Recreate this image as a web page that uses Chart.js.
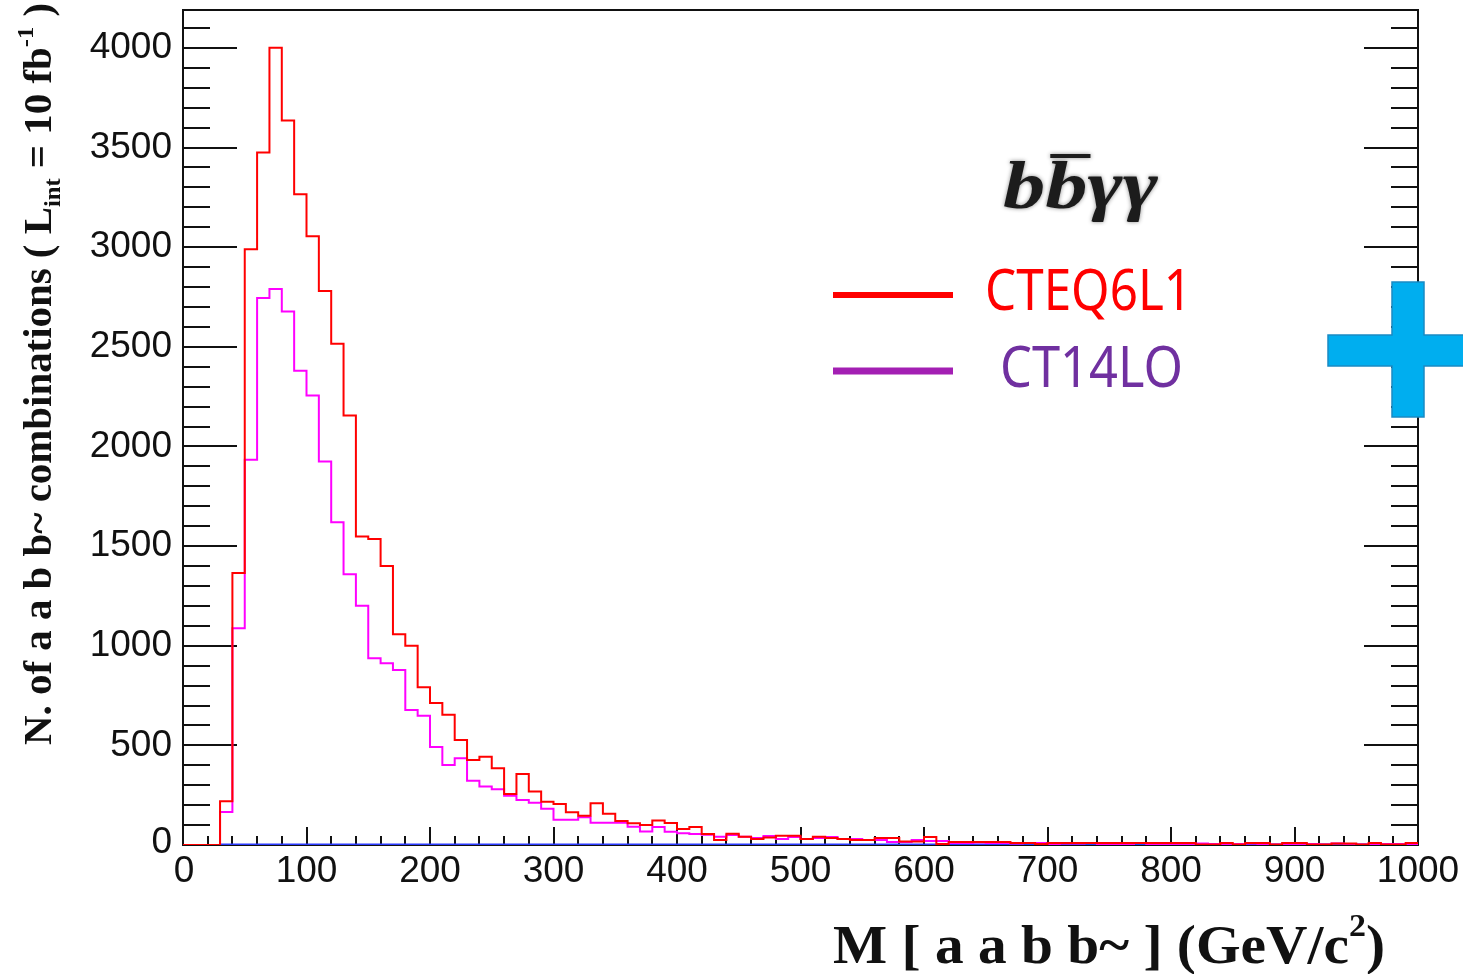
<!DOCTYPE html>
<html>
<head>
<meta charset="utf-8">
<script src="https://cdn.jsdelivr.net/npm/chart.js@4.4.1/dist/chart.umd.min.js"></script>
<style>
  html, body { margin: 0; padding: 0; background: #fff; }
  canvas { display: block; }
</style>
</head>
<body>
<canvas id="histo" width="1463" height="974"></canvas>
<script>
// bins of 10 GeV, lower edges 0 .. 990
var binWidth = 10;
var xMin = 0, xMax = 1000;

// CTEQ6L1 (red)
var cteq6l1 = [
  0, 0, 0, 220, 1365, 2990, 3475, 4000, 3635, 3265,
  3055, 2780, 2515, 2155, 1548, 1535, 1400, 1058, 1000, 792,
  712, 653, 527, 427, 443, 385, 256, 356, 268, 217,
  206, 164, 147, 210, 157, 120, 109, 100, 123, 110,
  80, 90, 55, 25, 57, 42, 30, 38, 47, 47,
  30, 42, 35, 30, 25, 25, 35, 35, 17, 17,
  40, 5, 15, 15, 15, 15, 15, 10, 10, 5,
  10, 10, 10, 10, 10, 10, 10, 10, 10, 10,
  10, 10, 3, 3, 10, 3, 10, 10, 3, 10,
  10, 3, 3, 8, 8, 3, 10, 3, 3, 10
];

// CT14LO (magenta)
var ct14lo = [
  0, 0, 0, 165, 1088, 1933, 2745, 2790, 2677, 2380,
  2256, 1924, 1620, 1359, 1200, 937, 912, 878, 678, 648,
  492, 402, 435, 323, 293, 280, 247, 226, 212, 182,
  127, 127, 139, 112, 112, 112, 92, 68, 90, 66,
  59, 55, 52, 42, 50, 42, 35, 45, 30, 40,
  30, 35, 40, 30, 30, 25, 25, 15, 15, 25,
  20, 20, 10, 10, 12, 10, 10, 8, 10, 10,
  5, 8, 8, 10, 5, 5, 5, 10, 5, 5,
  5, 3, 8, 5, 3, 5, 8, 5, 3, 5,
  3, 5, 3, 8, 5, 3, 3, 5, 5, 3
];

// third sample (blue), empty histogram from 30 on
var thirdSample = [
  null, null, null, 0, 0, 0, 0, 0, 0, 0,
  0, 0, 0, 0, 0, 0, 0, 0, 0, 0,
  0, 0, 0, 0, 0, 0, 0, 0, 0, 0,
  0, 0, 0, 0, 0, 0, 0, 0, 0, 0,
  0, 0, 0, 0, 0, 0, 0, 0, 0, 0,
  0, 0, 0, 0, 0, 0, 0, 0, 0, 0,
  0, 0, 0, 0, 0, 0, 0, 0, 0, 0,
  0, 0, 0, 0, 0, 0, 0, 0, 0, 0,
  0, 0, 0, 0, 0, 0, 0, 0, 0, 0,
  0, 0, 0, 0, 0, 0, 0, 0, 0, 0
];

var xTickLabels = ["0", "100", "200", "300", "400", "500", "600", "700", "800", "900", "1000"];
var xTickValues = [0, 100, 200, 300, 400, 500, 600, 700, 800, 900, 1000];
var yTickLabels = ["0", "500", "1000", "1500", "2000", "2500", "3000", "3500", "4000"];
var yTickValues = [0, 500, 1000, 1500, 2000, 2500, 3000, 3500, 4000];
var xMinorStep = 20;
var yMinorStep = 100;
var yMax = 4190;

var legendNames = ["CTEQ6L1", "CT14LO"];

// turn bin contents into step points (left edge + closing point)
function toSteps(values) {
  var pts = values.map(function(v, i){ return {x: xMin + i * binWidth, y: v}; });
  pts.push({x: xMax, y: values[values.length - 1]});
  return pts;
}

// draw text squeezed/stretched to a given width
function fitText(ctx, text, x, y, width, font, align) {
  ctx.font = font;
  var w = ctx.measureText(text).width;
  ctx.save();
  ctx.translate(x, y);
  ctx.scale(width / w, 1);
  ctx.textAlign = align;
  ctx.fillText(text, 0, 0);
  ctx.restore();
}

// pieces with sub/superscripts, fitted to a length
function drawPieces(ctx, pieces, size, family, length) {
  var total = 0;
  pieces.forEach(function(p){
    ctx.font = "bold " + Math.round(size * (p.s || 1)) + "px " + family;
    p.w = ctx.measureText(p.t).width;
    total += p.w;
  });
  var k = length / total;
  ctx.save();
  ctx.scale(k, 1);
  var x = 0;
  pieces.forEach(function(p){
    ctx.font = "bold " + Math.round(size * (p.s || 1)) + "px " + family;
    ctx.fillText(p.t, x, (p.dy || 0) * size);
    x += p.w;
  });
  ctx.restore();
}

const frameAndTicks = {
  id: 'frameAndTicks',
  beforeDatasetsDraw(chart) {
    const {ctx, chartArea: {top, bottom, left, right}, scales: {x, y}} = chart;
    ctx.save();
    ctx.strokeStyle = '#111';
    ctx.lineWidth = 2;
    ctx.strokeRect(left, top, right - left, bottom - top);

    // x ticks (bottom)
    ctx.beginPath();
    for (var v = xMin; v <= xMax; v += xMinorStep) {
      var px = Math.round(x.getPixelForValue(v));
      var len = (v % 100 === 0) ? 18 : 9;
      ctx.moveTo(px, bottom);
      ctx.lineTo(px, bottom - len);
    }
    // y ticks (left and right)
    for (var w = 0; w <= yMax; w += yMinorStep) {
      var py = Math.round(y.getPixelForValue(w));
      var l2 = (w % 500 === 0) ? 54 : 27;
      ctx.moveTo(left, py);
      ctx.lineTo(left + l2, py);
      ctx.moveTo(right, py);
      ctx.lineTo(right - l2, py);
    }
    ctx.stroke();
    ctx.restore();
  },
  afterDraw(chart) {
    const {ctx, chartArea: {top, bottom, left, right}, scales: {x, y}} = chart;
    ctx.save();
    ctx.fillStyle = '#111';

    // tick labels
    ctx.font = '37px "Liberation Sans", Arial, sans-serif';
    ctx.textBaseline = 'middle';
    ctx.textAlign = 'right';
    yTickValues.forEach(function(v, i){
      ctx.fillText(yTickLabels[i], left - 11, y.getPixelForValue(v) + (v === 0 ? -2 : 0));
    });
    ctx.textAlign = 'center';
    ctx.textBaseline = 'top';
    xTickValues.forEach(function(v, i){
      ctx.fillText(xTickLabels[i], x.getPixelForValue(v) + (v === 0 ? 1 : 0), bottom + 8);
    });

    // axis titles
    ctx.textBaseline = 'alphabetic';
    ctx.textAlign = 'left';
    ctx.save();
    ctx.translate(51, 745);
    ctx.rotate(-Math.PI / 2);
    drawPieces(ctx, [
      {t: 'N. of a a b b~ combinations ( L'},
      {t: 'int', s: 0.6, dy: 0.22},
      {t: ' = 10 fb'},
      {t: '-1', s: 0.6, dy: -0.45},
      {t: ' )'}
    ], 40, '"Liberation Serif", "Times New Roman", serif', 742);
    ctx.restore();

    ctx.save();
    ctx.translate(833, 963);
    drawPieces(ctx, [
      {t: 'M [ a a b b~ ] (GeV/c'},
      {t: '2', s: 0.6, dy: -0.5},
      {t: ')'}
    ], 54, '"Liberation Serif", "Times New Roman", serif', 552);
    ctx.restore();

    // process label b b-bar gamma gamma
    ctx.save();
    ctx.shadowColor = 'rgba(0,0,0,0.45)';
    ctx.shadowBlur = 4;
    ctx.fillStyle = '#1c1c1c';
    var f = 'italic bold 68px "Liberation Serif", "DejaVu Serif", serif';
    ctx.font = f;
    var wb = ctx.measureText('b').width;
    var wg = ctx.measureText('γγ').width;
    var sc = 155 / (2 * wb + wg);
    ctx.translate(1003, 208);
    ctx.scale(sc, 1);
    ctx.fillText('b', 0, 0);
    ctx.fillText('b', wb, 0);
    ctx.fillText('γγ', 2 * wb, 0);
    ctx.fillRect(wb + 4, -54, wb * 0.95, 4);
    ctx.restore();

    // legend
    ctx.lineWidth = 6;
    ctx.strokeStyle = '#ff0000';
    ctx.beginPath(); ctx.moveTo(833, 295); ctx.lineTo(953, 295); ctx.stroke();
    ctx.lineWidth = 7;
    ctx.strokeStyle = '#a31fb3';
    ctx.beginPath(); ctx.moveTo(833, 371); ctx.lineTo(953, 371); ctx.stroke();

    ctx.fillStyle = '#ff0000';
    fitText(ctx, legendNames[0], 985, 310, 207, '56px "Noto Sans", "Open Sans", sans-serif', 'left');
    ctx.fillStyle = '#7030a0';
    fitText(ctx, legendNames[1], 1000, 387, 183, '56px "Noto Sans", "Open Sans", sans-serif', 'left');

    // blue plus sign at right edge
    ctx.fillStyle = '#00aeef';
    ctx.strokeStyle = '#1a8ac4';
    ctx.lineWidth = 1.5;
    ctx.beginPath();
    ctx.moveTo(1392, 282); ctx.lineTo(1424, 282); ctx.lineTo(1424, 335);
    ctx.lineTo(1470, 335); ctx.lineTo(1470, 366); ctx.lineTo(1424, 366);
    ctx.lineTo(1424, 417); ctx.lineTo(1392, 417); ctx.lineTo(1392, 366);
    ctx.lineTo(1328, 366); ctx.lineTo(1328, 335); ctx.lineTo(1392, 335);
    ctx.closePath();
    ctx.fill();
    ctx.stroke();

    ctx.restore();
  }
};

var chartData = {
  datasets: [{
    label: legendNames[0],
    data: toSteps(cteq6l1),
    borderColor: '#ff0000',
    borderWidth: 2
  }, {
    label: legendNames[1],
    data: toSteps(ct14lo),
    borderColor: '#ff00ff',
    borderWidth: 2
  }, {
    label: 'other',
    data: toSteps(thirdSample),
    borderColor: '#2b3bff',
    borderWidth: 3
  }]
};

var chartOptions = {
  responsive: false,
  animation: false,
  layout: {
    padding: {left: 183, right: 45, top: 10, bottom: 129}
  },
  elements: {
    point: {radius: 0},
    line: {stepped: 'before', tension: 0, fill: false}
  },
  plugins: {
    legend: {display: false},
    tooltip: {enabled: false}
  },
  scales: {
    x: {type: 'linear', min: xMin, max: xMax, display: false},
    y: {type: 'linear', min: 0, max: yMax, display: false}
  }
};

var histoChart = new Chart(document.getElementById('histo'), {
  type: 'line',
  data: chartData,
  options: chartOptions,
  plugins: [frameAndTicks]
});
</script>
</body>
</html>
